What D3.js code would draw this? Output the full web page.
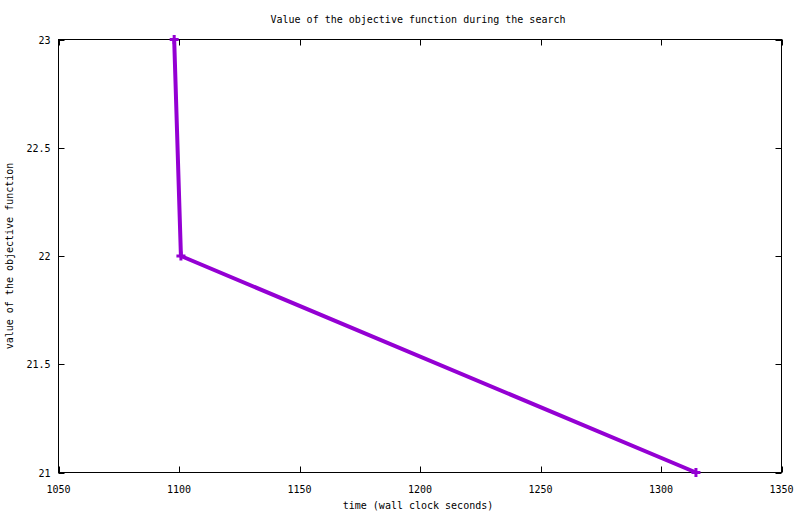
<!DOCTYPE html>
<html><head><meta charset="utf-8">
<script src="https://cdn.jsdelivr.net/npm/d3@7"></script>
<style>body{margin:0;background:#fff}svg{display:block}text{font-family:"DejaVu Sans Mono",monospace;font-size:10px;fill:#000}</style>
</head><body>
<svg id="c" width="800" height="514"></svg>
<script>
const times = [1098, 1100.8, 1314.5];
const values = [23, 22, 21];
const xTicks = [1050, 1100, 1150, 1200, 1250, 1300, 1350];
const yTicks = [21, 21.5, 22, 22.5, 23];
const title = "Value of the objective function during the search";
const xLabel = "time (wall clock seconds)";
const yLabel = "value of the objective function";

const svg = d3.select("#c");
const L = 58.5, R = 781.5, T = 39.5, B = 472.5;
const x = d3.scaleLinear().domain([1050, 1350]).range([L, R]);
const y = d3.scaleLinear().domain([21, 23]).range([B, T]);
const tl = 6;

// frame
svg.append("rect").attr("x", L).attr("y", T).attr("width", R - L).attr("height", B - T)
  .attr("fill", "none").attr("stroke", "#000").attr("stroke-width", 1);

const g = svg.append("g");
xTicks.forEach(v => {
  const px = Math.round(x(v)) + 0.5;
  g.append("line").attr("x1", px).attr("x2", px).attr("y1", B).attr("y2", B - tl).attr("stroke", "#000");
  g.append("line").attr("x1", px).attr("x2", px).attr("y1", T).attr("y2", T + tl).attr("stroke", "#000");
  g.append("text").attr("x", x(v)).attr("y", B + 20).attr("text-anchor", "middle").text(v);
});
yTicks.forEach(v => {
  const py = Math.round(y(v)) + 0.5;
  g.append("line").attr("x1", L).attr("x2", L + tl).attr("y1", py).attr("y2", py).attr("stroke", "#000");
  g.append("line").attr("x1", R).attr("x2", R - tl).attr("y1", py).attr("y2", py).attr("stroke", "#000");
  g.append("text").attr("x", L - 8).attr("y", y(v) + 4).attr("text-anchor", "end").text(v);
});

svg.append("text").attr("x", 418).attr("y", 23).attr("text-anchor", "middle").text(title);
svg.append("text").attr("x", 418).attr("y", 509).attr("text-anchor", "middle").text(xLabel);
svg.append("text").attr("transform", "translate(13," + ((T + B) / 2) + ") rotate(-90)")
  .attr("text-anchor", "middle").text(yLabel);

const data = times.map((t, i) => ({t, v: values[i]}));
svg.append("path").datum(data)
  .attr("d", d3.line().x(d => x(d.t)).y(d => y(d.v)))
  .attr("fill", "none").attr("stroke", "#9400d3").attr("stroke-width", 4).attr("stroke-linejoin", "round");

const s = 4.5;
data.forEach(d => {
  const cx = x(d.t), cy = y(d.v);
  svg.append("path").attr("d", `M${cx - s},${cy}H${cx + s}M${cx},${cy - s}V${cy + s}`)
    .attr("stroke", "#9400d3").attr("stroke-width", 3);
});
</script>
</body></html>
